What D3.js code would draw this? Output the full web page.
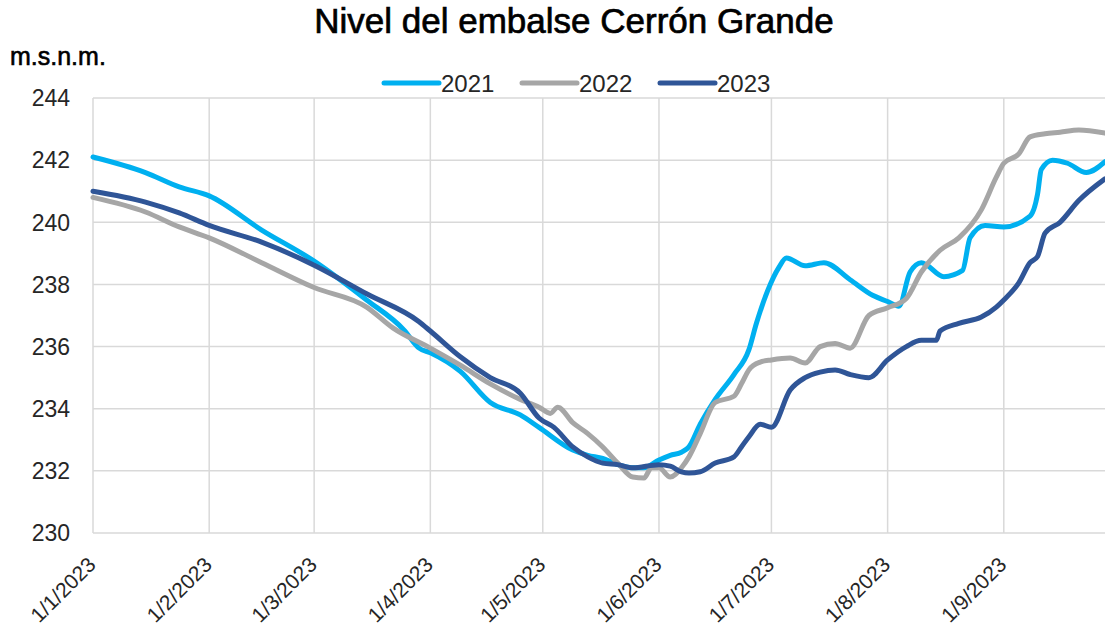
<!DOCTYPE html>
<html><head><meta charset="utf-8">
<script src="https://cdn.jsdelivr.net/npm/d3@7"></script>
<style>body{margin:0;background:#fff}svg{display:block}</style>
</head><body>
<svg id="c" width="1105" height="641"></svg>
<script>
const seriesNames = ["2021","2022","2023"];
const seriesColors = ["#00b0f0","#a6a6a6","#2f5597"];
const yTicks = [230,232,234,236,238,240,242,244];
const xTickDates = ["2023-01-01","2023-02-01","2023-03-01","2023-04-01","2023-05-01","2023-06-01","2023-07-01","2023-08-01","2023-09-01"];
const xTickLabels = ["1/1/2023","1/2/2023","1/3/2023","1/4/2023","1/5/2023","1/6/2023","1/7/2023","1/8/2023","1/9/2023"];

const data2021 = [
["01-01",242.1],["01-15",241.6],["01-24",241.14],["02-01",240.85],["02-15",239.75],["03-01",238.75],
["03-15",237.5],["03-25",236.53],["03-29",235.95],["04-01",235.8],["04-09",235.2],["04-17",234.2],
["04-25",233.8],["04-30",233.4],["05-09",232.67],["05-13",232.5],["05-17",232.4],["05-21",232.2],
["05-25",232.1],["05-28",232.1],["06-01",232.35],["06-04",232.5],["06-07",232.6],["06-09",232.77],
["06-12",233.5],["06-16",234.3],["06-21",235.1],["06-25",235.9],["06-27",236.75],["06-30",237.8],
["07-03",238.55],["07-05",238.85],["07-10",238.6],["07-15",238.7],["07-22",238.15],["07-28",237.65],
["08-01",237.45],["08-04",237.3],["08-07",238.4],["08-10",238.7],["08-16",238.25],["08-21",238.45],
["08-23",239.5],["08-27",239.9],["09-01",239.85],["09-08",240.2],["09-10",240.9],["09-11",241.7],
["09-14",242.0],["09-18",241.9],["09-23",241.6],["09-28",241.95]
];
const data2022 = [
["01-01",240.8],["01-15",240.33],["01-24",239.85],["02-01",239.5],["02-15",238.7],["03-01",237.9],
["03-15",237.27],["03-22",236.6],["04-01",235.95],["04-09",235.4],["04-17",234.8],["04-25",234.3],
["04-30",234.05],["05-03",233.85],["05-05",234.05],["05-09",233.55],["05-13",233.2],["05-17",232.77],
["05-21",232.25],["05-25",231.8],["05-28",231.77],["05-30",232.1],["06-01",232.1],["06-04",231.8],
["06-07",232.1],["06-09",232.45],["06-12",233.2],["06-16",234.2],["06-21",234.4],["06-23",234.8],
["06-25",235.25],["06-28",235.5],["07-01",235.57],["07-06",235.63],["07-10",235.47],["07-14",236.0],
["07-18",236.1],["07-22",235.95],["07-27",237.0],["08-01",237.25],["08-06",237.55],["08-10",238.4],
["08-15",239.1],["08-20",239.5],["08-26",240.4],["08-30",241.45],["09-01",241.9],["09-05",242.2],
["09-08",242.75],["09-12",242.85],["09-16",242.9],["09-21",242.97],["09-28",242.87]
];
const data2023 = [
["01-01",241.0],["01-15",240.65],["01-24",240.3],["02-01",239.9],["02-15",239.36],["03-01",238.62],
["03-15",237.7],["03-29",236.8],["04-01",236.5],["04-09",235.67],["04-17",235.0],["04-25",234.5],
["04-30",233.7],["05-04",233.4],["05-09",232.77],["05-13",232.45],["05-17",232.25],["05-21",232.2],
["05-25",232.1],["06-01",232.2],["06-04",232.15],["06-07",231.97],["06-09",231.93],["06-12",231.97],
["06-16",232.25],["06-21",232.45],["06-23",232.77],["06-25",233.1],["06-28",233.5],["07-01",233.4],
["07-06",234.6],["07-10",235.0],["07-14",235.18],["07-18",235.25],["07-22",235.1],["07-27",235.0],
["08-01",235.57],["08-06",236.0],["08-10",236.2],["08-14",236.2],["08-15",236.5],["08-20",236.75],
["08-26",236.95],["08-30",237.27],["09-01",237.5],["09-05",238.05],["09-08",238.7],["09-10",238.9],
["09-12",239.65],["09-16",240.0],["09-21",240.7],["09-28",241.4]
];
const allData = [data2021, data2022, data2023];

const parse = d3.timeParse("%Y-%m-%d");
const svg = d3.select("#c");
const L = 93, R = 1105, T = 98, B = 533;
const x = d3.scaleTime().domain([parse("2023-01-01"), parse("2023-09-28")]).range([L, R]);
const y = d3.scaleLinear().domain([230,244]).range([B, T]);

const font = "'Liberation Sans', Arial, sans-serif";

// grid
const g = svg.append("g");
g.selectAll(".hg").data(yTicks).enter().append("line")
  .attr("x1", L).attr("x2", R).attr("y1", d=>y(d)).attr("y2", d=>y(d))
  .attr("stroke","#d9d9d9").attr("stroke-width",1.5);
g.selectAll(".vg").data(xTickDates).enter().append("line")
  .attr("x1", d=>x(parse(d))).attr("x2", d=>x(parse(d))).attr("y1", T).attr("y2", B)
  .attr("stroke","#d9d9d9").attr("stroke-width",1.5);

// y labels
svg.selectAll(".yl").data(yTicks).enter().append("text")
  .attr("x", 70).attr("y", d=>y(d)).attr("dy","0.36em")
  .attr("text-anchor","end").attr("font-family",font).attr("font-size",23).attr("fill","#262626")
  .text(d=>d);

// x labels
svg.selectAll(".xl").data(xTickDates).enter().append("text")
  .attr("text-anchor","end").attr("font-family",font).attr("font-size",21).attr("fill","#262626")
  .attr("transform", d=>`translate(${x(parse(d))+4},${B+33}) rotate(-45)`)
  .text((d,i)=>xTickLabels[i]);

// lines
const line = d3.line().x(d=>x(parse("2023-"+d[0]))).y(d=>y(d[1])).curve(d3.curveMonotoneX);
allData.forEach((ds,i)=>{
  svg.append("path").datum(ds).attr("d", line).attr("fill","none")
    .attr("stroke", seriesColors[i]).attr("stroke-width",5)
    .attr("stroke-linejoin","round").attr("stroke-linecap","round");
});

// title
svg.append("text").attr("x", 574).attr("y", 33).attr("text-anchor","middle")
  .attr("font-family",font).attr("font-size",35).attr("fill","#000")
  .attr("stroke","#000").attr("stroke-width",0.7)
  .text("Nivel del embalse Cerrón Grande");
svg.append("text").attr("x", 10).attr("y", 65)
  .attr("font-family",font).attr("font-size",25).attr("fill","#000")
  .attr("stroke","#000").attr("stroke-width",0.6)
  .text("m.s.n.m.");

// legend
const legX = [384, 522, 660];
seriesNames.forEach((n,i)=>{
  svg.append("line").attr("x1",legX[i]).attr("x2",legX[i]+55).attr("y1",83).attr("y2",83)
    .attr("stroke",seriesColors[i]).attr("stroke-width",5).attr("stroke-linecap","round");
  svg.append("text").attr("x",legX[i]+57).attr("y",92)
    .attr("font-family",font).attr("font-size",24).attr("fill","#262626").text(n);
});
</script>
</body></html>
